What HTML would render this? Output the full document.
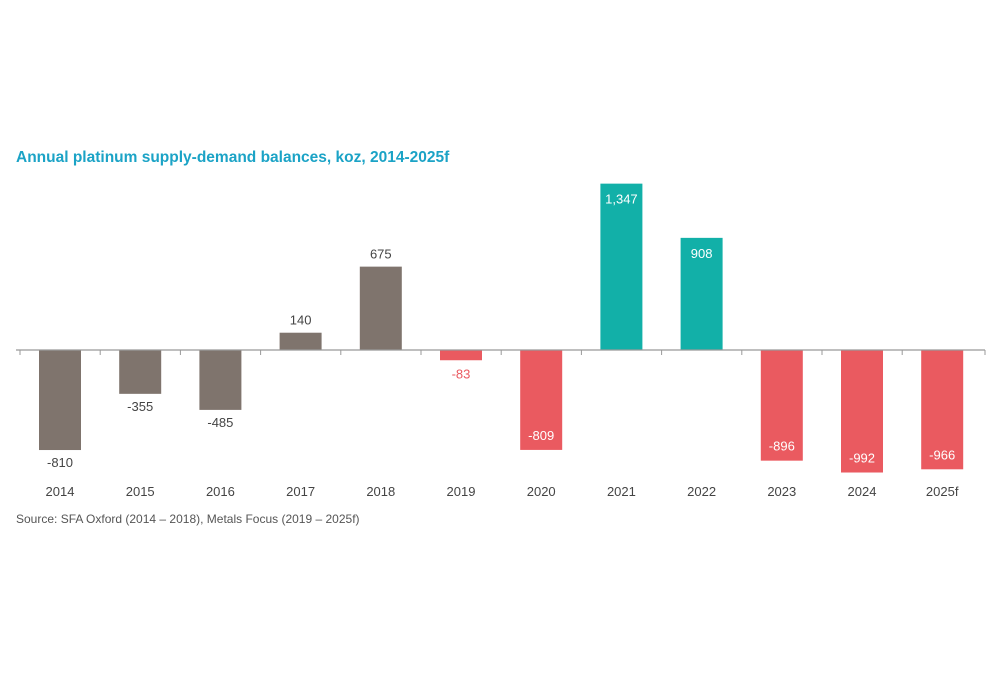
<!DOCTYPE html>
<html><head><meta charset="utf-8"><style>
body{margin:0;background:#fff;font-family:"Liberation Sans",Arial,sans-serif;}
svg{display:block}
</style></head><body>
<svg width="1000" height="675">
<text x="16" y="162" font-size="15.5" font-weight="bold" fill="#1ba3c6">Annual platinum supply-demand balances, koz, 2014-2025f</text>
<g id="bars"></g>
<text x="16" y="523" font-size="12" fill="#555">Source: SFA Oxford (2014 – 2018), Metals Focus (2019 – 2025f)</text>
</svg>
<script>
const categories=["2014","2015","2016","2017","2018","2019","2020","2021","2022","2023","2024","2025f"];
const values=[-810,-355,-485,140,675,-83,-809,1347,908,-896,-992,-966];
const valueLabels=["-810","-355","-485","140","675","-83","-809","1,347","908","-896","-992","-966"];
const colorGroups=["g","g","g","g","g","r","r","t","t","r","r","r"];
const NS="http://www.w3.org/2000/svg";
const g=document.getElementById('bars');
const base=350,k=0.1235;
const y=v=>base-v*k;
const xc=i=>60+80.2*i;
const col={g:"#7f746d",r:"#ea5a60",t:"#12b0a8"};
function mk(t,a){const e=document.createElementNS(NS,t);for(const q in a)e.setAttribute(q,a[q]);g.appendChild(e);return e;}
categories.forEach((c,i)=>{
  const v=values[i],x=xc(i),top=Math.min(y(v),base),h=Math.abs(y(v)-base);
  const r=mk('rect',{x:x-21,y:top,width:42,height:h,fill:col[colorGroups[i]]});
  
  
  let ly,fill;
  const grp=colorGroups[i];
  if(grp==='g'){fill='#444';ly=v>=0?y(v)-8:y(v)+17;}
  else if(grp==='r'&&Math.abs(v)<200){fill='#ea5a60';ly=y(v)+18;}
  else if(grp==='t'){fill='#fff';ly=y(v)+20;}
  else {fill='#fff';ly=y(v)-10;}
  const t=mk('text',{x:x,y:ly,'text-anchor':'middle','font-size':13,fill:fill});
  t.textContent=valueLabels[i];
  
  
  const xl=mk('text',{x:x,y:496,'text-anchor':'middle','font-size':13,fill:'#444'});
  xl.textContent=c;
  
  
  const tk=mk('line',{x1:x-40,x2:x-40,y1:base,y2:base+5,stroke:'#999'});
  
  
});
const ax=mk('line',{x1:16,x2:985,y1:base,y2:base,stroke:'#999','stroke-width':1.2});


const te=mk('line',{x1:985,x2:985,y1:base,y2:base+5,stroke:'#999'});


</script>
</body></html>
